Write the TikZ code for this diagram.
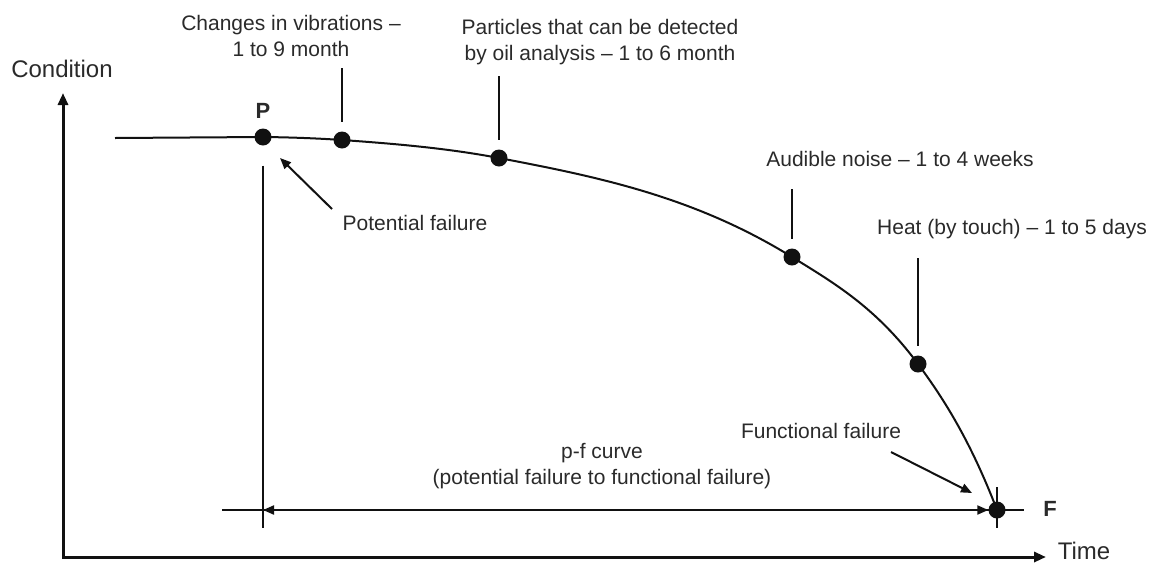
\documentclass[tikz,border=0pt]{standalone}
\usepackage{fontspec}
\setmainfont{Liberation Sans}
\usetikzlibrary{arrows.meta}
\definecolor{ink}{HTML}{111111}
\definecolor{txt}{HTML}{2A2A2A}

\begin{document}
\begin{tikzpicture}[x=1pt,y=-1pt,
  every node/.style={text=txt, font=\fontsize{21}{26}\selectfont, inner sep=0pt},
  lbl/.style={align=center, anchor=north},
  axislbl/.style={anchor=base, font=\fontsize{24}{28}\selectfont},
  boldlbl/.style={anchor=base, font=\fontsize{22}{26}\selectfont\bfseries},
  dot/.style={circle, fill=ink, minimum size=17pt, inner sep=0pt},
  axis/.style={draw=ink, line width=3pt, line join=miter,
    {Triangle[length=12pt,width=10pt]}-{Triangle[length=12pt,width=10pt]}},
  thin/.style={draw=ink, line width=2pt},
  tip/.style={draw=ink, line width=2pt, -{Triangle[length=11pt,width=9pt]}},
  both/.style={draw=ink, line width=2pt,
    {Triangle[length=11pt,width=9pt]}-{Triangle[length=11pt,width=9pt]}},
]
\useasboundingbox (0,0) rectangle (1155,563);

% axes
\coordinate (ytop) at (63,93);
\coordinate (O) at (63,557);
\coordinate (xend) at (1046,557);
\draw[axis] (ytop) -- (O) -- (xend);
\node[axislbl] (cond) at (62,77) {Condition};
\node[axislbl] (timeT) at (1084,559) {Time};

% points on the curve
\node[dot] (P) at (263,137) {};
\node[dot] (vib) at (342,140) {};
\node[dot] (oil) at (499,158) {};
\node[dot] (noise) at (792,257) {};
\node[dot] (heat) at (918,364) {};
\node[dot] (F) at (997,510) {};
\coordinate (start) at (115,138);

% p-f curve: flat, then bending ever more steeply down to F
\draw[thin] (start) -- (P.center)
  .. controls (289.3,137.3) and (315.7,138.2) .. (vib.center)
  .. controls (394.3,143.7) and (446.7,148.1) .. (oil.center)
  .. controls (596.7,176.6) and (694.3,196.4) .. (noise.center)
  .. controls (834,283.0) and (876,307.3) .. (heat.center)
  .. controls (944.3,399.5) and (970.7,441.5) .. (F.center);

% stems up to the labels
\coordinate (vibTop) at (342,68);
\coordinate (oilTop) at (499,76);
\coordinate (noiseTop) at (792,189);
\coordinate (heatTop) at (918,258);
\draw[thin] (vibTop) -- ([yshift=9pt]vib.north);
\draw[thin] (oilTop) -- ([yshift=9pt]oil.north);
\draw[thin] (noiseTop) -- ([yshift=9pt]noise.north);
\draw[thin] (heatTop) -- ([yshift=9pt]heat.north);

% interval P to F
\coordinate (pBase) at (263,528);
\coordinate (pfL) at (222,510);
\coordinate (pfStart) at (263,510);
\coordinate (pfR) at (1024,510);
\coordinate (Fup) at (997,487);
\coordinate (Fdown) at (997,528);
\draw[thin] ([yshift=-20pt]P.south) -- (pBase);
\draw[thin] (pfL) -- (pfR);
\draw[thin] (Fup) -- (Fdown);
\draw[both] (pfStart) -- (F.west);

% labels
\node[boldlbl] (Plab) at (263,118) {P};
\node[boldlbl] (Flab) at (1050,516) {F};
\node[lbl] (vibT) at (291,15) {Changes in vibrations –\\1 to 9 month};
\node[lbl] (oilT) at (600,19) {Particles that can be detected\\by oil analysis – 1 to 6 month};
\node[anchor=base] (noiseT) at (900,166) {Audible noise – 1 to 4 weeks};
\node[anchor=base] (heatT) at (1012,234) {Heat (by touch) – 1 to 5 days};
\node[anchor=base] (pfail) at (415,230) {Potential failure};
\node[anchor=base] (ffail) at (821,438) {Functional failure};
\node[lbl] (pfT) at (602,443) {p-f curve\\(potential failure to functional failure)};

% pointers
\coordinate (pfailTail) at (332,209);
\coordinate (pfailTip) at (280,158);
\coordinate (ffailTail) at (891,452);
\coordinate (ffailTip) at (972,493);
\draw[tip] (pfailTail) -- (pfailTip);
\draw[tip] (ffailTail) -- (ffailTip);
\end{tikzpicture}
\end{document}
